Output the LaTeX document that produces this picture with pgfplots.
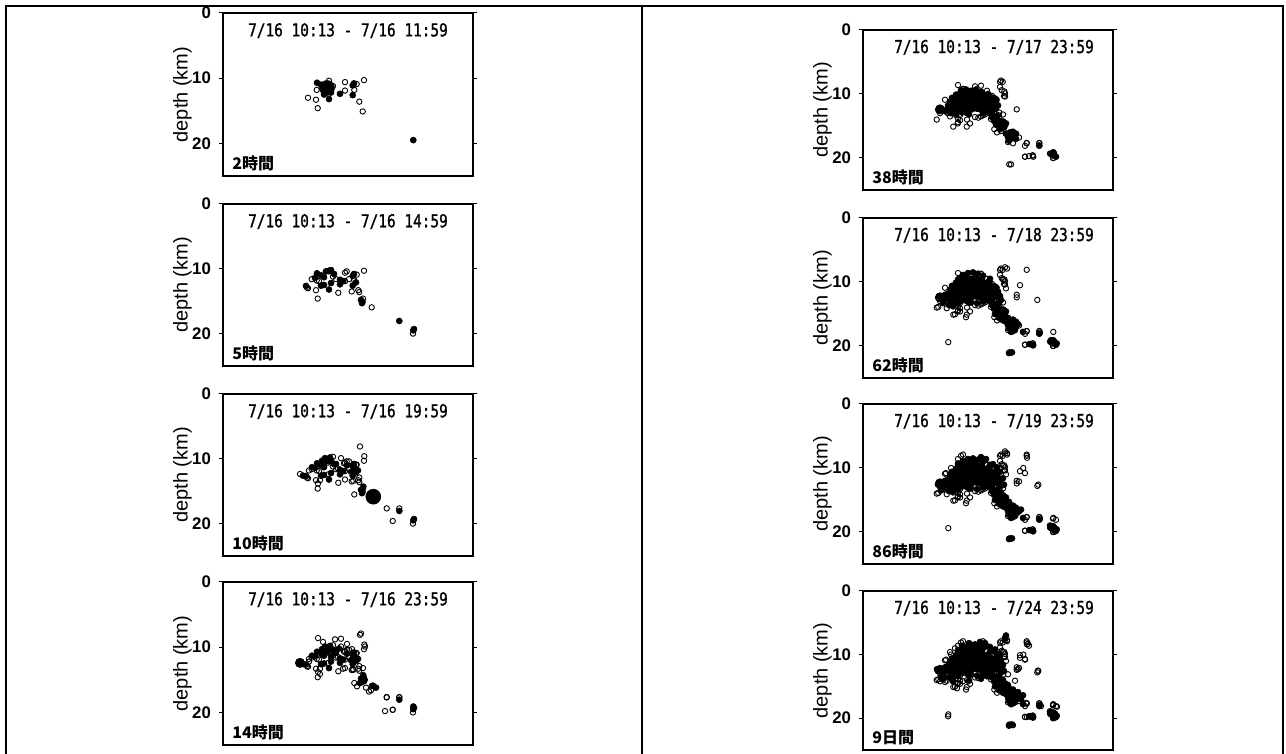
\documentclass[border=0pt]{standalone}
\usepackage{pgfplots}
\pgfplotsset{compat=1.18}
\usepackage{pgfplotstable}
\usepackage{fontspec}
\setmainfont{Liberation Sans}
\newfontfamily\ttlfont[FakeStretch=0.81,FakeBold=1.2]{DejaVu Sans Mono}
\newfontfamily\cjk{Noto Sans CJK JP}

% ---- hypocentres, cumulative by period: x = position along section, y = depth (km)
\pgfplotstableread{
x y
106 10.4
93.7 11.8
85 13.0
93 13.3
94.7 14.6
122 11.9
122 10.6
133.7 10.9
131.3 11.8
141 10.3
136.3 13.6
139.7 15.1
110 11.2
}\Aopen
\pgfplotstableread{
x y
94 10.7
98 11.0
101 12.5
108 12.2
106 13.2
117 12.4
129.7 11.1
131 10.8
129.7 12.6
190.3 19.5
}\Afill
\pgfplotstableread{
x y
84 12.9
88.7 11.6
96 11.9
113 11.6
115.3 13.7
123.7 10.4
126 11.6
128.7 13.5
135.3 13.3
140 14.6
148.7 15.95
190 20.0
}\Bopen
\pgfplotstableread{
x y
83 12.65
92 11.4
98 12.6
101 11.3
103 10.4
106 10.3
108 10.2
111 10.8
117 11.7
120 11.9
133 12.1
138 14.8
139 15.3
176.3 18.05
191 19.3
}\Bfill
\pgfplotstableread{
x y
77 12.35
86 11.8
95 13.8
97 13.3
105 10.6
110 9.7
115 11.5
118 9.9
121 10.7
126 10.4
133 10.9
122 13.2
130.3 13.4
136.3 12.9
137 8.1
141.3 9.6
131.3 15.5
163.7 17.65
176.3 17.65
169.7 19.6
105.3 12.4
}\Copen
\pgfplotstableread{
x y
80 12.6
89 11.3
99 10.3
102 9.9
107 9.8
113 10.8
124 11.0
128 12.0
131 11.4
135 11.8
140.3 14.3
}\Cfill
\pgfplotstableread{
x y
86 12.2
95 8.6
97 14.1
100 9.2
112 8.8
118 8.7
124 9.5
129 10.3
138 7.9
142 9.9
120 13.3
130 13.5
140 13.2
134 16.0
143 16.2
146 16.8
148 16.6
163.7 17.7
176.3 17.7
162 19.8
169.7 19.6
}\Dopen
\pgfplotstableread{
x y
104 10.8
108 11.5
112 10.5
116 10.2
137 15.5
150 15.9
153 16.2
190.3 19.1
}\Dfill
\pgfplotstableread{
x y
77 12.4
140 15.0
}\Dmed
\pgfplotstableread{
x y
75.3 12.5
77 13.0
73.7 14.0
82 10.9
87 13.5
90.3 15.1
103.7 15.1
107 14.6
104 14.0
139.7 8.1
137 8.9
138.7 9.4
142 10.4
153.7 12.4
162 18.1
176.3 18.1
162 19.8
166 19.7
170.3 19.8
146.3 21.0
148 21.0
187 19.3
190.3 20.0
145 17.5
150 17.7
138 15.8
156 16.8
95 14.4
112 13.6
118 13.5
128 13.9
}\Eopen
\pgfplotstableread{
x y
98 9.4
103 9.3
108 9.5
113 9.3
118 9.6
93 10.1
97 9.9
101 10.0
106 10.1
111 9.9
116 10.0
121 10.1
125 10.0
89 10.6
94 10.7
99 10.5
104 10.6
109 10.7
114 10.5
119 10.6
124 10.7
128 10.5
132 10.7
87 11.2
92 11.3
97 11.1
102 11.2
107 11.3
112 11.2
117 11.1
122 11.2
127 11.3
132 11.2
85 11.8
90 11.9
95 11.7
100 11.8
105 11.9
110 11.8
115 11.7
120 11.8
125 11.9
130 11.8
134 11.7
84 12.4
89 12.5
94 12.3
99 12.4
104 12.5
109 12.4
114 12.3
119 12.4
124 12.5
129 12.4
133 12.3
88 13.0
93 13.1
99 12.9
104 13.0
120 13.0
125 12.9
131 14.2
135 14.1
139 14.4
143 14.6
133 14.8
137 15.0
141 15.1
129 13.6
134 13.4
143 16.2
147 16.0
151 16.4
145 16.8
149 16.9
153 17.0
146 17.3
188 19.4
190 19.6
193 19.8
}\Efill
\pgfplotstableread{
x y
85.3 19.4
163.7 8.1
157 10.5
153.7 12.0
174.3 12.8
177 17.9
190.3 17.8
75.3 13.9
83.7 14.1
92 15.05
97 14.6
103 15.5
142 7.7
144 7.9
143 11.0
140 9.6
}\Fopen
\pgfplotstableread{
x y
100 8.9
105 8.6
110 8.5
115 8.7
120 9.0
95 9.6
127 9.5
76 12.3
79 12.8
80 13.3
82 12.0
86 13.6
90 13.8
95 13.4
108 13.2
114 13.3
135 11.5
137 12.2
138 12.8
136 13.3
132 15.0
136 15.6
140 16.0
145 15.6
150 15.9
155 16.6
152 17.5
148 17.8
188 19.1
191 19.3
193.7 19.6
167 19.7
170 19.9
146 21.1
149 21.0
160 17.8
}\Ffill
\pgfplotstableread{
x y
163.7 7.9
164 8.4
160.3 10.0
162 10.8
175.3 12.6
142 7.4
144 7.7
190 17.9
193 18.1
156 12.1
98 8.1
100 7.9
88 10.0
83 10.8
}\Gopen
\pgfplotstableread{
x y
95 9.3
103 9.0
108 8.8
113 8.9
118 8.3
123 8.6
130 9.4
134 9.9
137 10.6
140 11.6
141 12.6
138 13.8
134 14.5
146 15.3
158 16.5
154 17.0
192 19.9
187 19.0
75 12.6
78 13.5
}\Gfill
\pgfplotstableread{
x y
87 9.6
92 9.0
120 7.9
155 12.3
77 14.2
82 14.3
94 15.3
100 14.2
165 8.3
166 8.6
157 10.1
162 10.7
175 12.5
178 18.1
163 17.6
164 19.8
168 19.7
146 21.2
150 21.1
190 18.0
194 18.2
187 18.9
85 19.7
145 13.1
152 14.1
148 16.2
156 17.3
}\Hopen
\pgfplotstableread{
x y
99 8.6
106 8.2
112 8.4
117 8.0
122 8.2
127 8.8
132 9.2
136 10.0
138 11.2
140 12.4
131 13.8
124 13.4
118 13.8
106 14.1
90 14.2
80 13.9
74 12.3
140 14.0
145 14.8
150 15.5
155 15.9
160 16.4
158 17.0
152 16.8
142 7.4
143 7.0
192 19.3
190 19.8
167 19.7
}\Hfill

\pgfplotsset{
  /pgf/number format/assume math mode=true,
  openpt/.style={only marks, mark=o, mark size=1.35pt, mark options={line width=0.45pt, draw=black}},
  fillpt/.style={only marks, mark=*, mark size=1.5pt, mark options={draw=black, fill=black, line width=0.3pt}},
  panel/.style={
    scale only axis, width=125pt,
    xmin=0, xmax=250, ymin=0, ymax=25, y dir=reverse,
    xtick=\empty, ytick={0,10,20},
    axis line style={line width=1.3pt},
    tick align=outside, major tick length=2pt,
    tick style={line width=0.5pt, black},
    yticklabel pos=left,
    yticklabel style={font=\fontsize{8.4}{8}\selectfont\bfseries, xshift=-0.5pt},
    ylabel={depth (km)},
    ylabel style={font=\fontsize{8.8}{10}\selectfont},
    every axis y label/.style={at={(axis description cs:-0.162,0.5)}, rotate=90, anchor=center},
    anchor=north west,
  },
}
\newcommand\ttl[2][125]{\node[font=\ttlfont\fontsize{8.9}{9}\selectfont, inner sep=0pt] at (axis cs:#1,2.7) {#2};}
\newcommand\lab[1]{\node[font=\cjk\bfseries\fontsize{8}{8}\selectfont, anchor=south west, inner sep=0pt] at (rel axis cs:0,0) [xshift=4.5pt, yshift=2.5pt] {#1};}
\newcommand\pset[2]{\addplot[openpt] table {#1}; \addplot[fillpt] table {#2};}
\newcommand\SA{\pset{\Aopen}{\Afill}}
\newcommand\SB{\pset{\Bopen}{\Bfill}}
\newcommand\SC{\pset{\Copen}{\Cfill}}
\newcommand\SD{\pset{\Dopen}{\Dfill}\addplot[only marks, mark=*, mark size=2.3pt] table {\Dmed};}
\newcommand\SE{\pset{\Eopen}{\Efill}}
\newcommand\SF{\pset{\Fopen}{\Ffill}}
\newcommand\SG{\pset{\Gopen}{\Gfill}}
\newcommand\SH{\pset{\Hopen}{\Hfill}}

\begin{document}
\begin{tikzpicture}
\useasboundingbox (0,0) rectangle (643pt,377pt);
\draw[line width=0.8pt] (3pt,0pt) -- (3pt,374pt) -- (641.5pt,374pt) -- (641.5pt,0pt);
\draw[line width=0.8pt] (321pt,0pt) -- (321pt,374pt);

% ---------------- left column
\begin{axis}[panel, height=81.5pt, at={(111.5pt,370.5pt)}]
\SA
\addplot[only marks, mark=*, mark size=3.7pt] coordinates {(104,11.5)};
\ttl{7/16 10:13 - 7/16 11:59}
\lab{2時間}
\end{axis}

\begin{axis}[panel, height=81pt, at={(111.5pt,275pt)}]
\SA \SB
\ttl{7/16 10:13 - 7/16 14:59}
\lab{5時間}
\end{axis}

\begin{axis}[panel, height=81pt, at={(111.5pt,180pt)}]
\SA \SB \SC
\addplot[only marks, mark=*, mark size=3.7pt] coordinates {(150.3,15.85)};
\ttl{7/16 10:13 - 7/16 19:59}
\lab{10時間}
\end{axis}

\begin{axis}[panel, height=81.5pt, at={(111.5pt,86pt)}]
\SA \SB \SC \SD
\ttl{7/16 10:13 - 7/16 23:59}
\lab{14時間}
\end{axis}

% ---------------- right column
\begin{axis}[panel, height=80pt, at={(431.5pt,362pt)}]
\SA \SB \SC \SD \SE
\ttl[131]{7/16 10:13 - 7/17 23:59}
\lab{38時間}
\end{axis}

\begin{axis}[panel, height=80pt, at={(431.5pt,268pt)}]
\SA \SB \SC \SD \SE \SF
\ttl[131]{7/16 10:13 - 7/18 23:59}
\lab{62時間}
\end{axis}

\begin{axis}[panel, height=80pt, at={(431.5pt,175pt)}]
\SA \SB \SC \SD \SE \SF \SG
\ttl[131]{7/16 10:13 - 7/19 23:59}
\lab{86時間}
\end{axis}

\begin{axis}[panel, height=79.5pt, at={(431.5pt,81.5pt)}]
\SA \SB \SC \SD \SE \SF \SG \SH
\ttl[131]{7/16 10:13 - 7/24 23:59}
\lab{9日間}
\end{axis}
\end{tikzpicture}
\end{document}
